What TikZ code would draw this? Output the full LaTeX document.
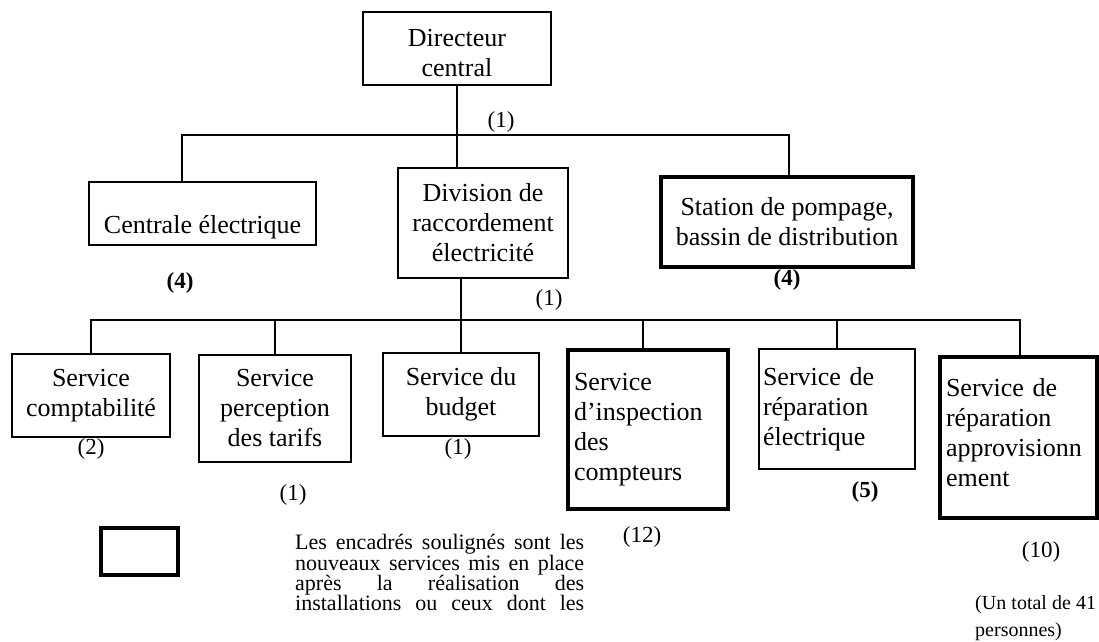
\documentclass[tikz,border=0pt]{standalone}
\usepackage{fontspec}
\setmainfont{Liberation Serif}
\tikzset{
  box/.style={draw, line width=1.6pt, inner sep=4pt, align=center,
    font=\fontsize{26}{30}\selectfont},
  newbox/.style={box, line width=3.6pt},
  cnt/.style={inner sep=0pt, font=\fontsize{23}{28}\selectfont},
  cntb/.style={inner sep=0pt, font=\fontsize{23}{28}\selectfont\bfseries},
  link/.style={line width=1.5pt},
  note/.style={anchor=north west, inner sep=0pt, align=left},
}
\begin{document}
\begin{tikzpicture}[x=1pt, y=-1pt]
\useasboundingbox (0,0) rectangle (1099,641);
% top level
\node[box, minimum width=188pt, minimum height=73pt] (dir) at (457,48.5)
  {\rule{0pt}{27pt}Directeur\\central};
\node[box, minimum width=227pt, minimum height=63pt] (cen) at (202.5,213.5)
  {\rule{0pt}{45pt}Centrale électrique};
\node[box, minimum width=170pt, minimum height=110pt] (div) at (483,223)
  {Division de\\raccordement\\électricité};
\node[newbox, minimum width=252pt, minimum height=90pt] (sta) at (787,222)
  {Station de pompage,\\bassin de distribution};
% services
\node[box, minimum width=158pt, minimum height=83pt] (b1) at (91,395.5)
  {Service\\comptabilité};
\node[box, minimum width=152pt, minimum height=107pt] (b2) at (275,408.5)
  {Service\\perception\\des tarifs};
\node[box, minimum width=156pt, minimum height=83pt] (b3) at (461,394.5)
  {Service du\\budget};
\node[newbox, minimum width=160pt, minimum height=159pt, text width=148pt,
  inner xsep=6pt, align=left] (b4) at (648,429.5)
  {Service\\d'inspection\\des\\compteurs};
\node[box, minimum width=156pt, minimum height=120pt, text width=148pt,
  inner xsep=4pt, align=left] (b5) at (837,409)
  {\makebox[148pt][s]{Service de}\\réparation\\électrique};
\node[newbox, minimum width=157pt, minimum height=161pt, text width=145pt,
  inner xsep=6pt, align=left] (b6) at (1018.5,437.5)
  {\makebox[145pt][s]{Service de}\\réparation\\approvisionn\\ement\rule[-10pt]{0pt}{10pt}};
% staff counts
\node[cnt]  (n0) at (501,122) {(1)};
\node[cntb] (n1) at (180,283) {(4)};
\node[cntb] (n2) at (787,280) {(4)};
\node[cnt]  (n3) at (549,300) {(1)};
\node[cnt]  (n4) at (91,449)  {(2)};
\node[cnt]  (n5) at (293,495) {(1)};
\node[cnt]  (n6) at (458,449) {(1)};
\node[cnt]  (n7) at (642,537) {(12)};
\node[cntb] (n8) at (865,492) {(5)};
\node[cnt]  (n9) at (1041,552) {(10)};
% legend
\node[draw, line width=3.6pt, minimum width=77pt, minimum height=47pt,
  inner sep=0pt] (leg) at (139.5,551.5) {};
\node[note, font=\fontsize{22}{20}\selectfont] (legtxt) at (295,534)
  {\makebox[289pt][s]{Les encadrés soulignés sont les}\\
   \makebox[289pt][s]{nouveaux services mis en place}\\
   \makebox[289pt][s]{après la réalisation des}\\
   \makebox[289pt][s]{installations ou ceux dont les}};
\node[note, font=\fontsize{20}{27}\selectfont] (tot) at (975,595)
  {\makebox[121pt][s]{(Un total de 41}\\personnes)};
% connectors
\coordinate (tl) at (182,135);
\coordinate (tr) at (789,135);
\coordinate (bl) at (91,320);
\coordinate (br) at (1020,320);
\coordinate (v4) at (643,320);
\draw[link] (dir.south) -- (div.north -| dir.south);
\draw[link] (cen.north -| tl) -- (tl) -- (tr) -- (sta.north -| tr);
\draw[link] (b1.north) -- (bl) -- (br) -- (b6.north -| br);
\draw[link] (b2.north) -- (b2.north |- bl);
\draw[link] (div.south -| b3.north) -- (b3.north);
\draw[link] (v4) -- (b4.north -| v4);
\draw[link] (b5.north) -- (b5.north |- bl);
\end{tikzpicture}
\end{document}
